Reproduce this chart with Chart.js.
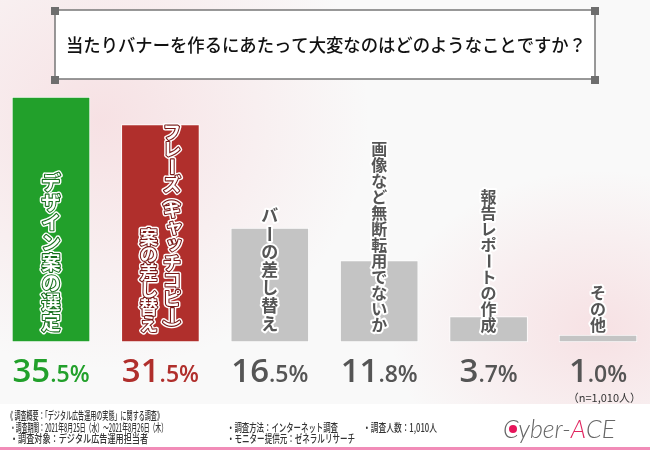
<!DOCTYPE html>
<html>
<head>
<meta charset="utf-8">
<script src="https://cdn.jsdelivr.net/npm/chart.js@4.4.0/dist/chart.umd.min.js"></script>
<style>
  html, body { margin: 0; padding: 0; }
  body { width: 650px; height: 450px; overflow: hidden; }
  #wrap {
    position: relative; width: 650px; height: 450px;
    background:
      radial-gradient(ellipse 270px 250px at 100px 120px, rgba(238,140,152,0.22), rgba(238,140,152,0) 100%),
      radial-gradient(ellipse 210px 160px at 600px 330px, rgba(238,140,152,0.22), rgba(238,140,152,0) 100%),
      #f9f9f9;
  }
</style>
</head>
<body>
<div id="wrap"><canvas id="myChart" width="650" height="450"></canvas></div>
<script>
// data
const categories = ['デザイン案の選定', ['フレーズ（キャッチコピー）', '案の差し替え'], 'バーの差し替え', '画像など無断転用でないか', '報告レポートの作成', 'その他']
const values = [35.5, 31.5, 16.5, 11.8, 3.7, 1.0]
const titleText = '当たりバナーを作るにあたって大変なのはどのようなことですか？'
const sampleNote = '（n=1,010人）'
const surveyTexts = [
    '《 調査概要：「デジタル広告運用の実態」に関する調査》',
    '・調査期間：2021年8月25日（水）～2021年8月26日（木）',
    '・調査方法：インターネット調査',
    '・調査人数：1,010人',
    '・調査対象：デジタル広告運用担当者',
    '・モニター提供元：ゼネラルリサーチ',
]

// styles / layout
const barColors = ['#22a02b', '#b02f2c', '#c4c4c4', '#c4c4c4', '#c4c4c4', '#c4c4c4']
const pctColors = ['#22a02b', '#b02f2c', '#555555', '#555555', '#555555', '#555555']
const labelStyles = [
    { size: 19, adv: 20, fill: '#ffffff', halo: '#ffffff', edge: '#17701c' },
    { size: 18, adv: 17.5, fill: '#ffffff', halo: '#ffffff', edge: '#7a1a18' },
    { size: 17, adv: 18, fill: '#555555', halo: '#ffffff' },
    { size: 16, adv: 16, fill: '#555555', halo: '#ffffff' },
    { size: 16, adv: 16, fill: '#555555', halo: '#ffffff' },
    { size: 16, adv: 16, fill: '#555555', halo: '#ffffff' },
]
const surveyPos = [[7, 416, 156], [10, 428, 157], [227, 428, 111], [363, 428, 74], [10, 439, 138], [227, 439, 128]]
const jp = '"Noto Sans CJK JP", "Noto Sans", sans-serif'

const rotatedGlyphs = 'ー（）～'
const smallKana = 'ャュョッァィゥェォゃゅょっぁぃぅぇぉ'

const drawVertical = (ctx, text, x, bottom, st) => {
    const glyphs = Array.from(text)
    const placed = []
    let cursor = bottom
    for (let i = glyphs.length - 1; i >= 0; i--) {
        const g = glyphs[i]
        const a = '（）'.includes(g) ? st.adv * 0.5 : st.adv
        placed.push({ g, cy: cursor - a / 2 })
        cursor -= a
    }
    ctx.font = `bold ${st.size}px ${jp}`
    ctx.textAlign = 'center'
    ctx.textBaseline = 'middle'
    ctx.lineJoin = 'round'
    const passes = [{ stroke: st.halo, w: st.edge ? 5 : 4 }]
    if (st.edge) passes.push({ stroke: st.edge, w: 2.2 })
    passes.push({ fill: st.fill })
    passes.forEach(p => {
        placed.forEach(({ g, cy }) => {
            ctx.save()
            let dx = 0, dy = 0
            if (smallKana.includes(g)) { dx = st.size * 0.12; dy = -st.size * 0.12 }
            ctx.translate(x + dx, cy + dy)
            if (rotatedGlyphs.includes(g)) ctx.rotate(Math.PI / 2)
            if (p.fill) { ctx.fillStyle = p.fill; ctx.fillText(g, 0, 0) }
            else { ctx.strokeStyle = p.stroke; ctx.lineWidth = p.w; ctx.strokeText(g, 0, 0) }
            ctx.restore()
        })
    })
}

const decorPlugin = {
    id: 'decor',
    beforeDraw(chart) {
        const ctx = chart.ctx
        ctx.save()
        // title box
        ctx.fillStyle = '#ffffff'
        ctx.fillRect(55, 10, 540, 69)
        ctx.strokeStyle = '#777777'
        ctx.lineWidth = 1.5
        ctx.strokeRect(55, 10, 540, 69)
        ctx.fillStyle = '#6e6e6e'
        ;[[55, 10], [595, 10], [55, 79], [595, 79]].forEach(([cx, cy]) => ctx.fillRect(cx - 4, cy - 3, 8, 8))
        ctx.fillStyle = '#111111'
        ctx.font = `500 18px ${jp}`
        ctx.textAlign = 'center'
        ctx.textBaseline = 'middle'
        ctx.fillText(titleText, 326, 45, 520)
        ctx.restore()
    },
    afterDatasetsDraw(chart) {
        const ctx = chart.ctx
        const bars = chart.getDatasetMeta(0).data
        ctx.save()
        bars.forEach((bar, i) => {
            const st = labelStyles[i]
            const cols = Array.isArray(categories[i]) ? categories[i] : [categories[i]]
            const spacing = st.size * 1.3
            cols.forEach((col, c) => {
                const x = bar.x + (cols.length - 1) / 2 * spacing - c * spacing
                drawVertical(ctx, col, x, bar.base - 9, st)
            })

            // percentage
            const [intPart, decPart] = values[i].toFixed(1).split('.')
            const rest = '.' + decPart + '%'
            const bigFont = `600 33px "Open Sans", Lato, sans-serif`
            const smallFont = `600 23px "Open Sans", Lato, sans-serif`
            ctx.font = bigFont
            const w1 = ctx.measureText(intPart).width
            ctx.font = smallFont
            const w2 = ctx.measureText(rest).width
            const x0 = bar.x - (w1 + w2) / 2
            ctx.textAlign = 'left'
            ctx.textBaseline = 'alphabetic'
            ctx.fillStyle = pctColors[i]
            ctx.font = bigFont
            ctx.fillText(intPart, x0, bar.base + 40)
            ctx.font = smallFont
            ctx.fillText(rest, x0 + w1, bar.base + 40)
        })
        ctx.fillStyle = '#333333'
        ctx.font = `11px ${jp}`
        ctx.textAlign = 'right'
        ctx.textBaseline = 'middle'
        ctx.fillText(sampleNote, 641, 398)
        ctx.restore()
    },
    afterDraw(chart) {
        const ctx = chart.ctx
        ctx.save()
        ctx.fillStyle = '#ffffff'
        ctx.fillRect(0, 404, 650, 43)
        ctx.fillStyle = '#f28cb8'
        ctx.fillRect(0, 447, 650, 3)
        ctx.fillStyle = '#333333'
        ctx.font = `500 11px ${jp}`
        ctx.textAlign = 'left'
        ctx.textBaseline = 'middle'
        surveyTexts.forEach((t, i) => {
            const [x, y, w] = surveyPos[i]
            ctx.fillText(t, x, y, w)
        })
        // logo
        ctx.font = 'italic 300 25px Lato, "Open Sans", sans-serif'
        ctx.textBaseline = 'alphabetic'
        const p1 = 'Cyber-', p2 = 'A', p3 = 'CE'
        const w1 = ctx.measureText(p1).width, w2 = ctx.measureText(p2).width
        ctx.fillStyle = '#666666'
        ctx.fillText(p1, 503, 438)
        ctx.fillStyle = '#e0245e'
        ctx.fillText(p2, 503 + w1, 438)
        ctx.fillStyle = '#666666'
        ctx.fillText(p3, 503 + w1 + w2, 438)
        ctx.fillStyle = '#e6145a'
        ctx.beginPath()
        ctx.arc(513, 429, 4, 0, Math.PI * 2)
        ctx.fill()
        ctx.restore()
    }
}

const chartDOM = document.querySelector('#myChart')
new Chart(chartDOM, {
    type: 'bar',
    data: {
        labels: categories,
        datasets: [{
            data: values,
            backgroundColor: barColors,
            borderColor: 'rgba(255,255,255,0.8)',
            borderWidth: 1,
            borderSkipped: false,
            barThickness: 78,
            clip: false,
        }]
    },
    options: {
        responsive: false,
        animation: false,
        layout: { padding: { left: 51, right: 52, top: 66, bottom: 108 } },
        plugins: { legend: { display: false }, tooltip: { enabled: false } },
        scales: {
            x: { display: false, offset: false },
            y: { display: false, min: 0, max: 40 },
        },
    },
    plugins: [decorPlugin],
})
</script>
</body>
</html>
